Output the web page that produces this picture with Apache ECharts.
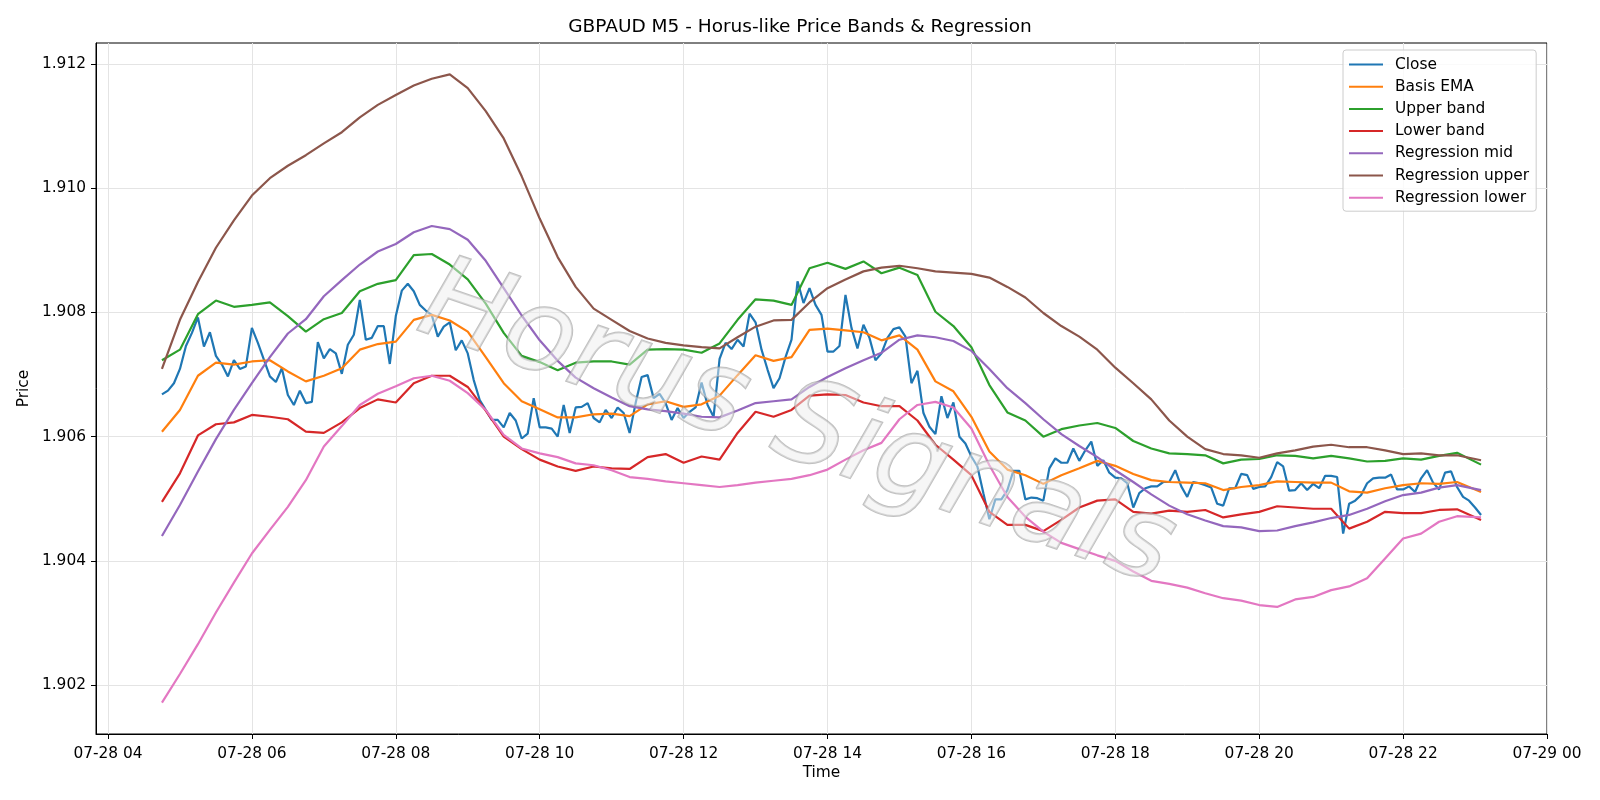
<!DOCTYPE html>
<html>
<head>
<meta charset="utf-8">
<title>GBPAUD M5 - Horus-like Price Bands & Regression</title>
<script src="https://cdn.jsdelivr.net/npm/echarts@6/dist/echarts.min.js"></script>
<style>
html, body { margin: 0; padding: 0; background: #fff; }
#chart { width: 1600px; height: 800px; }
</style>
</head>
<body>
<div id="chart"></div>
<script>
// M5 bars, first bar at 07-28 04:45 (x is hours since 07-28 00:00)
var firstBarHour = 4.75
var barMinutes = 5

var close = [
    1.90668, 1.90674, 1.90686, 1.90709, 1.90746, 1.90767, 1.90792, 1.90745, 1.90768, 1.90730,
    1.90716, 1.90697, 1.90723, 1.90709, 1.90713, 1.90775, 1.90751, 1.90724, 1.90697, 1.90688,
    1.90710, 1.90667, 1.90651, 1.90674, 1.90654, 1.90656, 1.90752, 1.90726, 1.90741, 1.90734,
    1.90701, 1.90748, 1.90764, 1.90820, 1.90756, 1.90759, 1.90778, 1.90778, 1.90717, 1.90794,
    1.90835, 1.90846, 1.90834, 1.90812, 1.90803, 1.90796, 1.90761, 1.90777, 1.90784, 1.90739,
    1.90755, 1.90734, 1.90691, 1.90659,
    1.90643, 1.90627, 1.90627, 1.90615, 1.90638, 1.90626, 1.90597, 1.90605, 1.90662, 1.90615,
    1.90615, 1.90613, 1.90600, 1.90651, 1.90606, 1.90647, 1.90648, 1.90654, 1.90630, 1.90623,
    1.90643, 1.90630, 1.90647, 1.90638, 1.90606, 1.90654, 1.90696, 1.90699, 1.90662, 1.90669,
    1.90654, 1.90627, 1.90646, 1.90630, 1.90640, 1.90647, 1.90687, 1.90651, 1.90632, 1.90725,
    1.90751, 1.90741, 1.90756, 1.90745, 1.90798, 1.90784, 1.90740, 1.90708, 1.90678, 1.90694,
    1.90728, 1.90756, 1.90850, 1.90815,
    1.90839, 1.90812, 1.90796, 1.90737, 1.90737, 1.90746, 1.90828, 1.90775, 1.90742, 1.90780,
    1.90759, 1.90723, 1.90734, 1.90759, 1.90773, 1.90776, 1.90761, 1.90686, 1.90706, 1.90638,
    1.90616, 1.90604, 1.90665, 1.90630, 1.90655, 1.90600, 1.90589, 1.90568, 1.90552, 1.90509,
    1.90467, 1.90499, 1.90499, 1.90514, 1.90545, 1.90545, 1.90499, 1.90502, 1.90501, 1.90497,
    1.90549, 1.90565, 1.90558, 1.90558, 1.90581, 1.90561, 1.90578, 1.90592, 1.90553, 1.90562,
    1.90542, 1.90534, 1.90533, 1.90525,
    1.90486, 1.90509, 1.90517, 1.90520, 1.90520, 1.90527, 1.90527, 1.90546, 1.90520, 1.90503,
    1.90527, 1.90525, 1.90522, 1.90518, 1.90492, 1.90489, 1.90517, 1.90517, 1.90540, 1.90538,
    1.90516, 1.90519, 1.90520, 1.90535, 1.90559, 1.90552, 1.90513, 1.90514, 1.90525, 1.90514,
    1.90524, 1.90517, 1.90537, 1.90537, 1.90535, 1.90444, 1.90492, 1.90497, 1.90506, 1.90525,
    1.90533, 1.90534, 1.90534, 1.90539, 1.90515, 1.90515, 1.90520, 1.90511, 1.90533, 1.90546,
    1.90526, 1.90515, 1.90542, 1.90544, 1.90519, 1.90503, 1.90497, 1.90486, 1.90474
]

// the smoother lines are read every third bar (plus the last one)
var sampleBars = [
    0, 3, 6, 9, 12, 15, 18, 21, 24, 27,
    30, 33, 36, 39, 42, 45, 48, 51, 54, 57,
    60, 63, 66, 69, 72, 75, 78, 81, 84, 87,
    90, 93, 96, 99, 102, 105, 108, 111, 114, 117,
    120, 123, 126, 129, 132, 135, 138, 141, 144, 147,
    150, 153, 156, 159, 162, 165, 168, 171, 174, 177,
    180, 183, 186, 189, 192, 195, 198, 201, 204, 207,
    210, 213, 216, 220
]

var basisEma = [
    1.90608, 1.90643, 1.90698, 1.90719, 1.90716, 1.90721, 1.90723, 1.90705, 1.90689, 1.90698,
    1.90710, 1.90740, 1.90749, 1.90753, 1.90788, 1.90796, 1.90787, 1.90769, 1.90728, 1.90686,
    1.90657, 1.90644, 1.90631, 1.90631, 1.90636, 1.90637, 1.90633, 1.90652, 1.90657, 1.90648,
    1.90652, 1.90666, 1.90699, 1.90731, 1.90722, 1.90728, 1.90772, 1.90774, 1.90771, 1.90768,
    1.90755, 1.90763, 1.90740, 1.90689, 1.90673, 1.90632, 1.90576, 1.90547, 1.90538, 1.90524,
    1.90538, 1.90549, 1.90561, 1.90553, 1.90540, 1.90530, 1.90527, 1.90526, 1.90525, 1.90514,
    1.90519, 1.90522, 1.90528, 1.90527, 1.90526, 1.90526, 1.90512, 1.90510, 1.90517, 1.90522,
    1.90525, 1.90524, 1.90527, 1.90511
]

var upperBand = [
    1.90723, 1.90740, 1.90797, 1.90819, 1.90809, 1.90812, 1.90816, 1.90794, 1.90769, 1.90789,
    1.90799, 1.90834, 1.90846, 1.90852, 1.90892, 1.90894, 1.90877, 1.90853, 1.90814, 1.90767,
    1.90730, 1.90720, 1.90707, 1.90719, 1.90721, 1.90721, 1.90716, 1.90740, 1.90741, 1.90740,
    1.90735, 1.90750, 1.90788, 1.90821, 1.90819, 1.90812, 1.90871, 1.90880, 1.90870, 1.90882,
    1.90863, 1.90872, 1.90860, 1.90801, 1.90778, 1.90744, 1.90683, 1.90639, 1.90626, 1.90600,
    1.90612, 1.90618, 1.90622, 1.90614, 1.90593, 1.90581, 1.90573, 1.90572, 1.90570, 1.90557,
    1.90563, 1.90564, 1.90570, 1.90569, 1.90565, 1.90569, 1.90565, 1.90560, 1.90561, 1.90565,
    1.90563, 1.90569, 1.90574, 1.90555
]

var lowerBand = [
    1.90495, 1.90541, 1.90602, 1.90620, 1.90623, 1.90635, 1.90632, 1.90628, 1.90608, 1.90606,
    1.90623, 1.90646, 1.90660, 1.90655, 1.90686, 1.90698, 1.90698, 1.90680, 1.90642, 1.90600,
    1.90580, 1.90563, 1.90552, 1.90545, 1.90552, 1.90549, 1.90548, 1.90567, 1.90572, 1.90558,
    1.90568, 1.90563, 1.90606, 1.90640, 1.90632, 1.90643, 1.90666, 1.90668, 1.90667, 1.90655,
    1.90649, 1.90649, 1.90626, 1.90587, 1.90563, 1.90538, 1.90479, 1.90458, 1.90458, 1.90448,
    1.90466, 1.90486, 1.90497, 1.90499, 1.90479, 1.90476, 1.90481, 1.90479, 1.90482, 1.90470,
    1.90475, 1.90479, 1.90488, 1.90486, 1.90484, 1.90484, 1.90452, 1.90463, 1.90479, 1.90477,
    1.90477, 1.90482, 1.90483, 1.90466
]

var regMid = [
    1.90440, 1.90490, 1.90544, 1.90596, 1.90643, 1.90686, 1.90728, 1.90766, 1.90789, 1.90826,
    1.90852, 1.90877, 1.90898, 1.90910, 1.90929, 1.90939, 1.90934, 1.90917, 1.90883, 1.90839,
    1.90795, 1.90755, 1.90722, 1.90695, 1.90678, 1.90663, 1.90649, 1.90644, 1.90641, 1.90637,
    1.90632, 1.90631, 1.90642, 1.90654, 1.90657, 1.90660, 1.90680, 1.90696, 1.90710, 1.90723,
    1.90735, 1.90756, 1.90763, 1.90760, 1.90754, 1.90738, 1.90709, 1.90678, 1.90654, 1.90628,
    1.90604, 1.90585, 1.90567, 1.90546, 1.90527, 1.90507, 1.90489, 1.90475, 1.90465, 1.90456,
    1.90454, 1.90448, 1.90449, 1.90456, 1.90462, 1.90469, 1.90474, 1.90484, 1.90496, 1.90506,
    1.90510, 1.90518, 1.90522, 1.90514
]

var regUpper = [
    1.90709, 1.90788, 1.90849, 1.90904, 1.90948, 1.90988, 1.91016, 1.91036, 1.91053, 1.91072,
    1.91090, 1.91114, 1.91134, 1.91150, 1.91165, 1.91176, 1.91183, 1.91161, 1.91124, 1.91080,
    1.91019, 1.90951, 1.90889, 1.90841, 1.90806, 1.90788, 1.90770, 1.90758, 1.90751, 1.90747,
    1.90744, 1.90742, 1.90760, 1.90777, 1.90787, 1.90788, 1.90816, 1.90839, 1.90853, 1.90866,
    1.90872, 1.90875, 1.90871, 1.90866, 1.90864, 1.90862, 1.90856, 1.90841, 1.90824, 1.90799,
    1.90778, 1.90761, 1.90740, 1.90711, 1.90686, 1.90660, 1.90626, 1.90600, 1.90580, 1.90572,
    1.90570, 1.90566, 1.90573, 1.90578, 1.90584, 1.90587, 1.90583, 1.90583, 1.90578, 1.90572,
    1.90573, 1.90570, 1.90570, 1.90562
]

var regLower = [
    1.90172, 1.90218, 1.90266, 1.90317, 1.90365, 1.90412, 1.90450, 1.90487, 1.90530, 1.90584,
    1.90617, 1.90651, 1.90669, 1.90681, 1.90694, 1.90698, 1.90690, 1.90670, 1.90643, 1.90603,
    1.90581, 1.90573, 1.90567, 1.90557, 1.90554, 1.90546, 1.90535, 1.90532, 1.90528, 1.90525,
    1.90522, 1.90519, 1.90522, 1.90526, 1.90529, 1.90532, 1.90538, 1.90547, 1.90563, 1.90578,
    1.90590, 1.90628, 1.90651, 1.90656, 1.90647, 1.90613, 1.90554, 1.90503, 1.90471, 1.90447,
    1.90429, 1.90419, 1.90409, 1.90400, 1.90383, 1.90368, 1.90363, 1.90357, 1.90348, 1.90340,
    1.90336, 1.90329, 1.90326, 1.90338, 1.90342, 1.90353, 1.90359, 1.90372, 1.90404, 1.90436,
    1.90444, 1.90463, 1.90472, 1.90470
]

var xTickHours = [4, 6, 8, 10, 12, 14, 16, 18, 20, 22, 24]
var xTickLabels = ['07-28 04', '07-28 06', '07-28 08', '07-28 10', '07-28 12', '07-28 14',
    '07-28 16', '07-28 18', '07-28 20', '07-28 22', '07-29 00']
var yTicks = [1.902, 1.904, 1.906, 1.908, 1.910, 1.912]

var seriesNames = ['Close', 'Basis EMA', 'Upper band', 'Lower band',
    'Regression mid', 'Regression upper', 'Regression lower']
var colors = ['#1f77b4', '#ff7f0e', '#2ca02c', '#d62728', '#9467bd', '#8c564b', '#e377c2']

function barHour(i) {
    return firstBarHour + i * barMinutes / 60
}

function sampled(values) {
    return values.map(function (v, k) { return [barHour(sampleBars[k]), v] })
}

var lines = [
    close.map(function (v, i) { return [barHour(i), v] }),
    sampled(basisEma),
    sampled(upperBand),
    sampled(lowerBand),
    sampled(regMid),
    sampled(regUpper),
    sampled(regLower)
]

// same 5% auto-margins as the original plot
var xFirst = barHour(0)
var xLast = barHour(close.length - 1)
var xPad = (xLast - xFirst) * 0.05
var allValues = [].concat(close, basisEma, upperBand, lowerBand, regMid, regUpper, regLower)
var yLow = Math.min.apply(null, allValues)
var yHigh = Math.max.apply(null, allValues)
var yPad = (yHigh - yLow) * 0.05

var font = 'DejaVu Sans'
var fs = 15.4

var option = {
    animation: false,
    backgroundColor: '#fff',
    color: colors,
    title: {
        text: 'GBPAUD M5 - Horus-like Price Bands & Regression',
        left: 'center',
        top: 13,
        textStyle: { fontFamily: font, fontSize: 18.5, fontWeight: 'normal', color: '#000' }
    },
    legend: {
        orient: 'vertical',
        left: 1343,
        top: 50,
        padding: [7, 7, 6, 6],
        itemGap: 7.2,
        itemWidth: 34,
        itemHeight: 2,
        icon: 'rect',
        backgroundColor: 'rgba(255,255,255,0.8)',
        borderColor: '#cccccc',
        borderWidth: 1,
        borderRadius: 3,
        textStyle: { fontFamily: font, fontSize: fs, color: '#000', padding: [0, 0, 0, 7] },
        data: seriesNames
    },
    grid: {
        left: 96,
        right: 53,
        top: 43,
        bottom: 66,
        show: true,
        borderColor: '#000',
        borderWidth: 1,
        backgroundColor: 'transparent'
    },
    xAxis: {
        type: 'value',
        min: xFirst - xPad,
        max: xLast + xPad,
        name: 'Time',
        nameLocation: 'middle',
        nameGap: 31,
        nameTextStyle: { fontFamily: font, fontSize: fs, color: '#000' },
        axisLine: { lineStyle: { color: '#000', width: 1 } },
        axisTick: { customValues: xTickHours, length: 5, lineStyle: { color: '#000' } },
        axisLabel: {
            customValues: xTickHours,
            margin: 12,
            fontFamily: font,
            fontSize: fs,
            color: '#000',
            formatter: function (v) { return xTickLabels[xTickHours.indexOf(v)] }
        },
        splitLine: { show: true, lineStyle: { color: '#e4e4e4', width: 1 } }
    },
    yAxis: {
        type: 'value',
        min: yLow - yPad,
        max: yHigh + yPad,
        name: 'Price',
        nameLocation: 'middle',
        nameGap: 57,
        nameTextStyle: { fontFamily: font, fontSize: fs, color: '#000' },
        axisLine: { show: true, lineStyle: { color: '#000', width: 1 } },
        axisTick: { show: true, customValues: yTicks, length: 5, lineStyle: { color: '#000' } },
        axisLabel: {
            customValues: yTicks,
            margin: 10,
            fontFamily: font,
            fontSize: fs,
            color: '#000',
            formatter: function (v) { return v.toFixed(3) }
        },
        splitLine: { show: true, lineStyle: { color: '#e4e4e4', width: 1 } }
    },
    graphic: [{
        type: 'text',
        x: 796,
        y: 428,
        rotation: -0.33,
        z: 100,
        silent: true,
        style: {
            text: 'Horus Signals',
            font: 'italic 115px "DejaVu Sans"',
            fill: 'rgba(238,238,238,0.5)',
            stroke: 'rgba(150,150,150,0.6)',
            lineWidth: 2,
            align: 'center',
            verticalAlign: 'middle',
            textAlign: 'center',
            textVerticalAlign: 'middle',
            shadowColor: 'rgba(0,0,0,0.2)',
            shadowBlur: 1,
            shadowOffsetX: 3,
            shadowOffsetY: 3
        }
    }],
    series: seriesNames.map(function (name, k) {
        return {
            name: name,
            type: 'line',
            data: lines[k],
            symbol: 'none',
            lineStyle: { width: 2.2, color: colors[k] },
            itemStyle: { color: colors[k] }
        }
    })
}

var chart = echarts.init(document.getElementById('chart'))
chart.setOption(option)
</script>
</body>
</html>
